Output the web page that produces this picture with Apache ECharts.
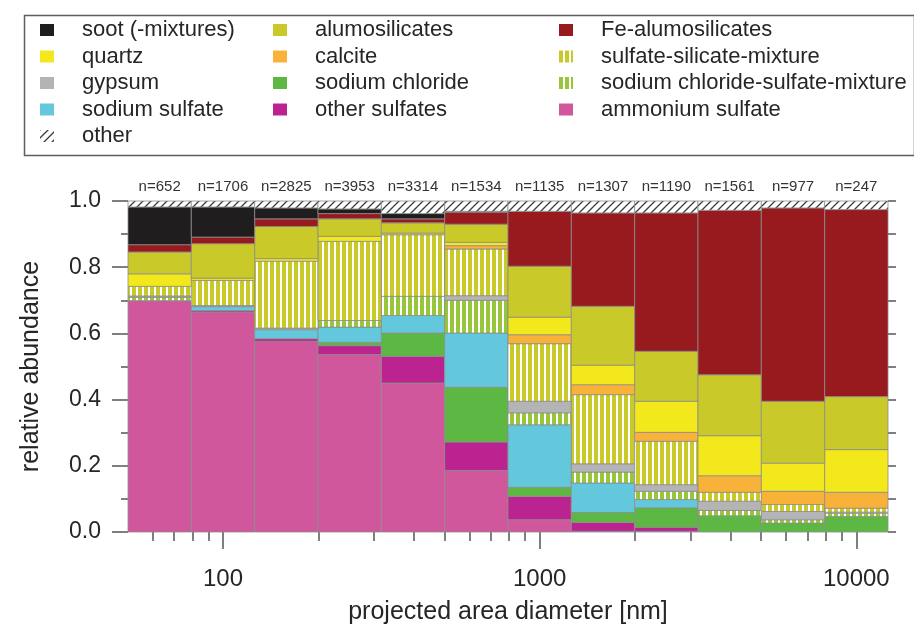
<!DOCTYPE html>
<html>
<head>
<meta charset="utf-8">
<script src="https://cdn.jsdelivr.net/npm/echarts@6/dist/echarts.min.js"></script>
<style>
  html, body { margin: 0; padding: 0; background: #fff; }
  #chart { width: 914px; height: 625px; }
</style>
</head>
<body>
<div id="chart"></div>
<script>
// Size-bin edges (projected area diameter, nm) and particle counts per bin
const binEdges = [50.12, 79.43, 125.89, 199.53, 316.23, 501.19, 794.33, 1258.93, 1995.26, 3162.28, 5011.87, 7943.28, 12589.25];
const particleCounts = [652, 1706, 2825, 3953, 3314, 1534, 1135, 1307, 1190, 1561, 977, 247];

// Relative abundance of each particle class per size bin
const ammoniumSulfate     = [0.699, 0.665, 0.576, 0.536, 0.450, 0.186, 0.037, 0.002, 0.002, 0.000, 0.000, 0.000];
const otherSulfates       = [0.000, 0.004, 0.008, 0.027, 0.081, 0.086, 0.071, 0.027, 0.012, 0.000, 0.000, 0.000];
const sodiumChloride      = [0.000, 0.000, 0.000, 0.010, 0.070, 0.165, 0.027, 0.030, 0.059, 0.049, 0.027, 0.047];
const sodiumSulfate       = [0.000, 0.012, 0.027, 0.046, 0.053, 0.164, 0.189, 0.089, 0.025, 0.000, 0.000, 0.000];
const chlorideSulfateMix  = [0.010, 0.000, 0.000, 0.020, 0.058, 0.099, 0.036, 0.033, 0.025, 0.016, 0.010, 0.010];
const gypsum              = [0.004, 0.003, 0.005, 0.000, 0.000, 0.014, 0.035, 0.025, 0.020, 0.028, 0.025, 0.003];
const sulfateSilicateMix  = [0.029, 0.076, 0.202, 0.239, 0.186, 0.141, 0.174, 0.209, 0.131, 0.027, 0.021, 0.012];
const calcite             = [0.000, 0.000, 0.000, 0.000, 0.000, 0.010, 0.027, 0.030, 0.027, 0.050, 0.040, 0.048];
const quartz              = [0.038, 0.007, 0.008, 0.015, 0.005, 0.010, 0.053, 0.059, 0.094, 0.121, 0.085, 0.129];
const alumosilicates      = [0.066, 0.104, 0.097, 0.053, 0.031, 0.055, 0.154, 0.178, 0.151, 0.184, 0.187, 0.160];
const feAlumosilicates    = [0.022, 0.020, 0.023, 0.016, 0.012, 0.036, 0.166, 0.282, 0.418, 0.497, 0.584, 0.565];
const soot                = [0.114, 0.091, 0.033, 0.014, 0.016, 0.003, 0.000, 0.000, 0.000, 0.000, 0.000, 0.000];
const other               = [0.018, 0.018, 0.021, 0.024, 0.038, 0.031, 0.031, 0.036, 0.036, 0.028, 0.021, 0.026];

// Axis tick values
const majorTickValues = [100, 1000, 10000];
const minorTickValues = [50, 60, 70, 80, 90, 200, 300, 400, 500, 600, 700, 800, 900,
                         2000, 3000, 4000, 5000, 6000, 7000, 8000, 9000];

const FONT = '"Liberation Sans", Arial, Helvetica, sans-serif';
const TEXT = '#262626';

function stripes(color) {
  const c = document.createElement('canvas');
  c.width = 6; c.height = 6;
  const g = c.getContext('2d');
  g.fillStyle = '#ffffff'; g.fillRect(0, 0, 6, 6);
  g.fillStyle = color; g.fillRect(0, 0, 4, 6);
  return { image: c, repeat: 'repeat' };
}
function hatch() {
  const c = document.createElement('canvas');
  c.width = 8; c.height = 8;
  const g = c.getContext('2d');
  g.fillStyle = '#ffffff'; g.fillRect(0, 0, 8, 8);
  g.strokeStyle = '#3a3a3a'; g.lineWidth = 1.3;
  g.beginPath();
  g.moveTo(0, 8); g.lineTo(8, 0);
  g.moveTo(-2, 2); g.lineTo(2, -2);
  g.moveTo(6, 10); g.lineTo(10, 6);
  g.stroke();
  return { image: c, repeat: 'repeat' };
}

// Stacking order, bottom to top
const classes = [
  { name: 'ammonium sulfate', values: ammoniumSulfate, fill: '#d1579d' },
  { name: 'other sulfates', values: otherSulfates, fill: '#bb2490' },
  { name: 'sodium chloride', values: sodiumChloride, fill: '#5db843' },
  { name: 'sodium sulfate', values: sodiumSulfate, fill: '#64c8dc' },
  { name: 'sodium chloride-sulfate-mixture', values: chlorideSulfateMix, fill: stripes('#98c63a') },
  { name: 'gypsum', values: gypsum, fill: '#b4b4b6' },
  { name: 'sulfate-silicate-mixture', values: sulfateSilicateMix, fill: stripes('#c9c92a') },
  { name: 'calcite', values: calcite, fill: '#f8b23a' },
  { name: 'quartz', values: quartz, fill: '#f2e81c' },
  { name: 'alumosilicates', values: alumosilicates, fill: '#c9c92a' },
  { name: 'Fe-alumosilicates', values: feAlumosilicates, fill: '#971b1e' },
  { name: 'soot (-mixtures)', values: soot, fill: '#1f1d1d' },
  { name: 'other', values: other, fill: hatch() }
];

const base = binEdges.slice(0, -1).map(() => 0);
const series = classes.map((cls) => {
  const data = cls.values.map((v, b) => {
    const row = [binEdges[b], binEdges[b + 1], base[b], base[b] + v];
    base[b] += v;
    return row;
  });
  return {
    type: 'custom',
    name: cls.name,
    xAxisIndex: 0,
    yAxisIndex: 0,
    silent: true,
    itemStyle: { color: cls.fill },
    encode: { x: [0, 1], y: [2, 3] },
    data: data,
    renderItem: (params, api) => {
      const lo = api.value(2), hi = api.value(3);
      if (!(hi - lo > 0)) return null;
      const a = api.coord([api.value(0), lo]);
      const b = api.coord([api.value(1), hi]);
      return {
        type: 'rect',
        shape: { x: a[0], y: b[1], width: b[0] - a[0], height: a[1] - b[1] },
        style: { fill: cls.fill, stroke: '#8d8d8d', lineWidth: 0.8 }
      };
    }
  };
});

// Particle count labels above each bin
series.push({
  type: 'custom',
  name: 'counts',
  silent: true,
  encode: { x: [0, 1], y: 3 },
  data: particleCounts.map((n, b) => [binEdges[b], binEdges[b + 1], n, 1]),
  renderItem: (params, api) => {
    const a = api.coord([api.value(0), api.value(3)]);
    const b = api.coord([api.value(1), api.value(3)]);
    return {
      type: 'text',
      x: (a[0] + b[0]) / 2,
      y: a[1] - 14,
      style: {
        text: 'n=' + api.value(2),
        align: 'center', verticalAlign: 'middle',
        fontSize: 15, fontFamily: FONT, fill: '#333'
      }
    };
  }
});

const legendText = { fontSize: 22, fontFamily: FONT, color: TEXT, lineHeight: 22, padding: [0, 0, 0, 23] };
function legendBlock(left, names) {
  return {
    show: true, orient: 'vertical', left: left, top: 19, padding: 0,
    itemWidth: 14, itemHeight: 12, itemGap: 4.5,
    selectedMode: false, icon: 'rect',
    textStyle: legendText,
    data: names
  };
}

const xAxisCommon = {
  type: 'log', min: binEdges[0], max: binEdges[binEdges.length - 1],
  position: 'bottom', gridIndex: 0,
  axisLine: { show: false }, splitLine: { show: false }
};

const option = {
  animation: false,
  backgroundColor: '#ffffff',
  grid: { left: 128, right: 26, top: 201, bottom: 93, containLabel: false, outerBoundsMode: 'none' },
  legend: [
    legendBlock(40, ['soot (-mixtures)', 'quartz', 'gypsum', 'sodium sulfate', 'other']),
    legendBlock(273, ['alumosilicates', 'calcite', 'sodium chloride', 'other sulfates']),
    legendBlock(559, ['Fe-alumosilicates', 'sulfate-silicate-mixture', 'sodium chloride-sulfate-mixture', 'ammonium sulfate'])
  ],
  graphic: [{
    type: 'rect', left: 22, top: 13,
    shape: { width: 890, height: 140 },
    style: { fill: 'none', stroke: '#5e5e5e', lineWidth: 1.5 }
  }],
  xAxis: [
    Object.assign({}, xAxisCommon, {
      name: 'projected area diameter [nm]', nameLocation: 'middle', nameGap: 68,
      nameTextStyle: { fontSize: 25, fontFamily: FONT, color: TEXT },
      axisTick: { show: true, customValues: majorTickValues, length: 17, inside: false,
                  lineStyle: { color: '#555', width: 1.5 } },
      axisLabel: { show: true, customValues: majorTickValues, margin: 35,
                   fontSize: 24, fontFamily: FONT, color: TEXT,
                   formatter: (v) => String(Math.round(v)) }
    }),
    Object.assign({}, xAxisCommon, {
      axisTick: { show: true, customValues: minorTickValues, length: 9, inside: false,
                  lineStyle: { color: '#555', width: 1.5 } },
      axisLabel: { show: false }
    })
  ],
  yAxis: [
    {
      type: 'value', min: 0, max: 1, interval: 0.2, position: 'left',
      name: 'relative abundance', nameLocation: 'middle', nameGap: 84,
      nameTextStyle: { fontSize: 25, fontFamily: FONT, color: TEXT },
      axisLine: { show: false }, splitLine: { show: false },
      axisTick: { show: true, length: 16, lineStyle: { color: '#555', width: 1.5 } },
      minorTick: { show: true, splitNumber: 2, length: 7, lineStyle: { color: '#555', width: 1.5 } },
      axisLabel: { margin: 27, fontSize: 23, fontFamily: FONT, color: TEXT,
                   formatter: (v) => v.toFixed(1) }
    },
    {
      type: 'value', min: 0, max: 1, interval: 0.1, position: 'right',
      axisLine: { show: false }, splitLine: { show: false },
      axisTick: { show: true, length: 8, lineStyle: { color: '#555', width: 1.5 } },
      axisLabel: { show: false }
    }
  ],
  series: series
};

const chart = echarts.init(document.getElementById('chart'), null, { renderer: 'canvas' });
chart.setOption(option);
</script>
</body>
</html>
